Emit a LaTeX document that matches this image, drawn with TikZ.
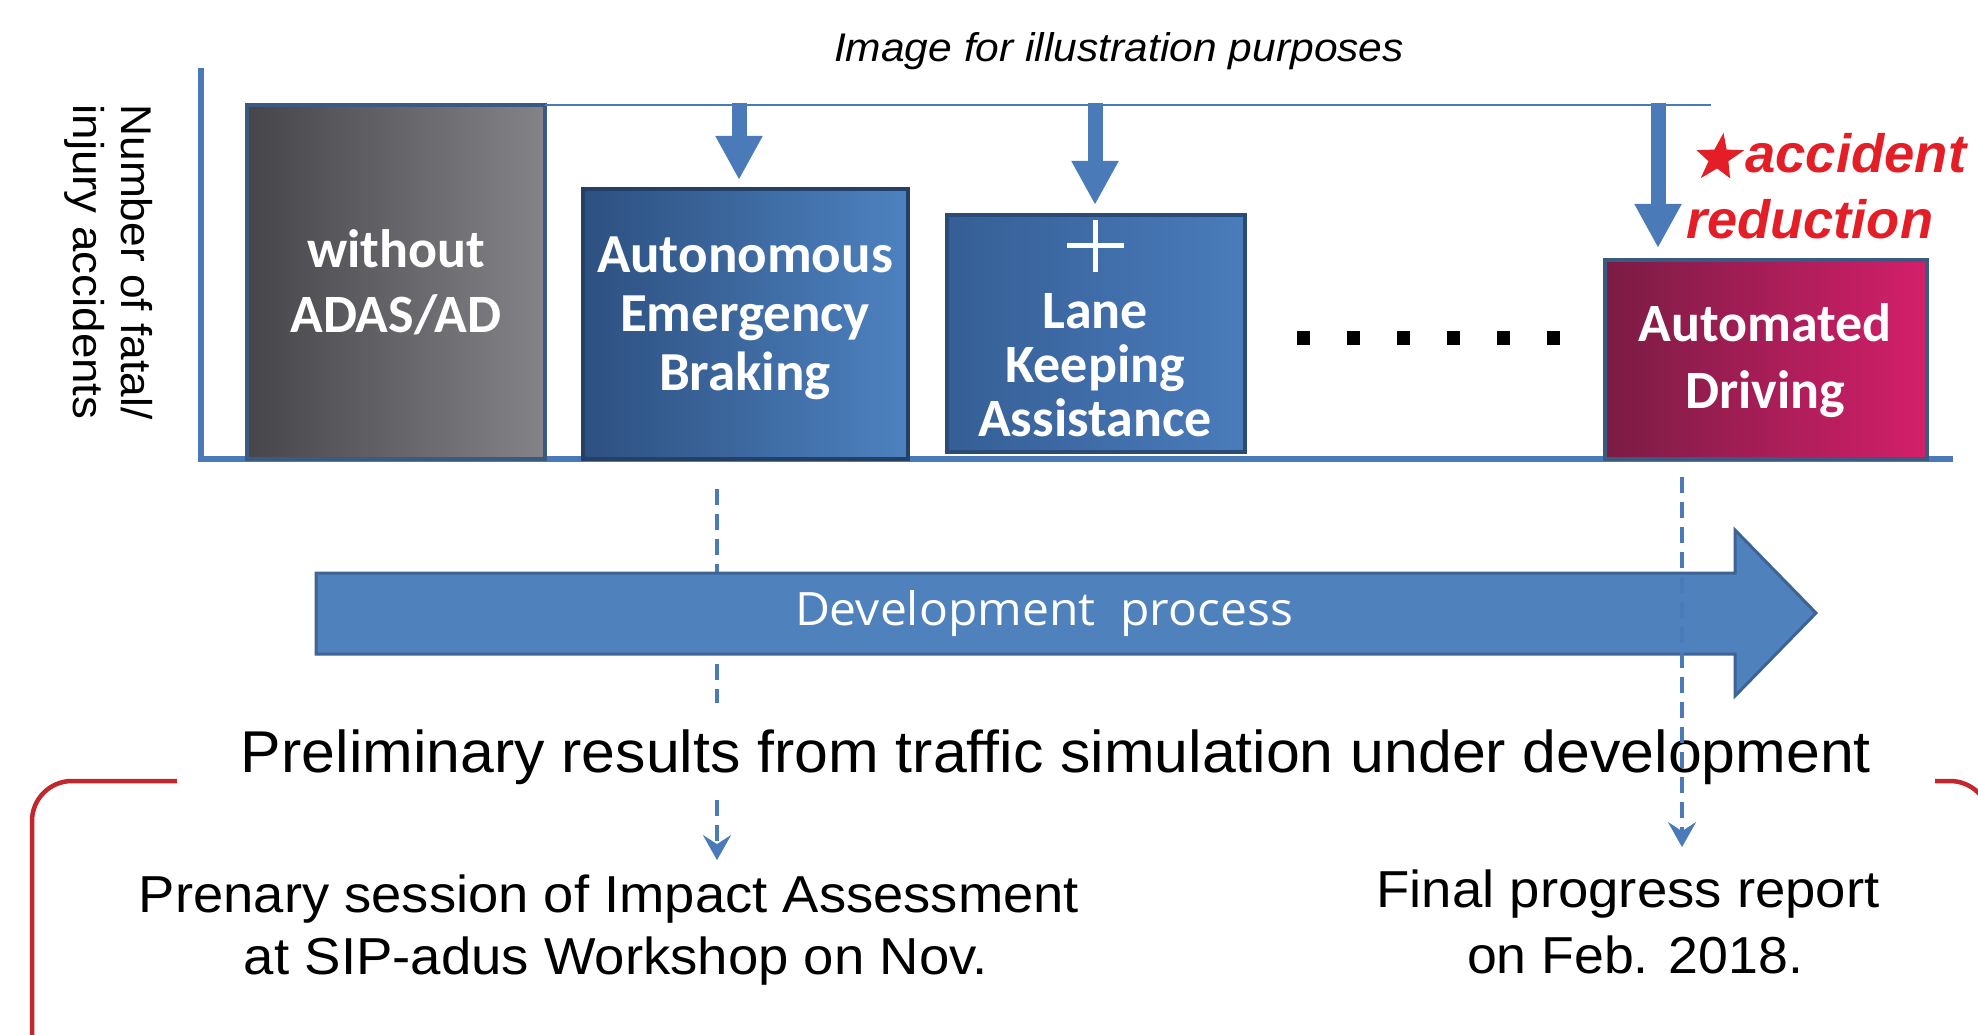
\documentclass[tikz,border=0pt]{standalone}
\usepackage{fontspec}
\setmainfont{Liberation Sans}
\newfontfamily\boxfont{Carlito}
\newfontfamily\devfont{Open Sans}
\usetikzlibrary{arrows.meta,shapes.geometric}
\newcommand\fitw[2]{\resizebox{#1}{\height}{#2}}
\definecolor{axisblue}{HTML}{4A7AB8}
\definecolor{arrowblue}{HTML}{4F81BD}
\definecolor{arrowedge}{HTML}{3E6496}
\definecolor{boxedge}{HTML}{3A5A82}
\definecolor{redtxt}{HTML}{E41E26}
\definecolor{bracketred}{HTML}{C1272D}
\definecolor{grayL}{HTML}{46464A}
\definecolor{grayR}{HTML}{838388}
\definecolor{blueL}{HTML}{2D5080}
\definecolor{blueR}{HTML}{4D82C0}
\definecolor{laneL}{HTML}{355E95}
\definecolor{laneR}{HTML}{4A7CBB}
\definecolor{adL}{HTML}{7A1C44}
\definecolor{adR}{HTML}{D41F6A}
\begin{document}
\begin{tikzpicture}[x=1pt,y=-1pt,
  bar/.style={draw=boxedge, line width=4pt, inner sep=0pt, outer sep=0pt},
  boxtxt/.style={text=white, align=center, inner sep=0pt},
  bigarrow/.style={axisblue, line width=15pt, -{Triangle[length=44pt,width=44pt]}},
  dashline/.style={axisblue, line width=3.5pt, dash pattern=on 16pt off 9pt},
  dashtip/.style={-{Stealth[length=25pt,width=28pt,inset=9pt]}},
  btxt/.style={inner sep=0pt, font={\fontsize{52}{62}\selectfont}},
  redt/.style={text=redtxt, inner sep=0pt, font={\bfseries\itshape\fontsize{54}{60}\selectfont}}]
\useasboundingbox (0,0) rectangle (1978,1035);
\fill[white] (0,0) rectangle (1978,1035);

% red bracket frame
\draw[bracketred, line width=4.5pt, rounded corners=40pt] (32,781) rectangle (1990,1075);

% axes
\coordinate (ytop) at (201,68);
\coordinate (orig) at (201,459);
\coordinate (xend) at (1953,459);
\draw[axisblue, line width=6pt, line join=miter] (ytop) -- (orig) -- (xend);

% boxes
\node[bar, left color=grayL, right color=grayR, minimum width=298pt, minimum height=354pt, anchor=south west] (gray) at (247,459) {};
\node[bar, draw=blueL!80!black, left color=blueL, right color=blueR, minimum width=325pt, minimum height=270pt, anchor=south west] (auto) at (583,459) {};
\node[bar, draw=laneL!80!black, left color=laneL, right color=laneR, minimum width=298pt, minimum height=237pt, anchor=south west] (lane) at (947,452) {};
\node[bar, left color=adL, right color=adR, minimum width=322pt, minimum height=199pt, anchor=south west] (ad) at (1605,459) {};

% top reference line
\coordinate (tr) at (1711,103);
\draw[axisblue, line width=2pt] (gray.north east) -- (gray.north east -| tr);

% reduction arrows
\coordinate (a1) at (739,103);
\coordinate (a2) at (1095,103);
\coordinate (a3) at (1658,103);
\draw[bigarrow, shorten >=9pt] (a1) -- (a1 |- auto.north);
\draw[bigarrow, shorten >=10pt] (a2) -- (a2 |- lane.north);
\draw[bigarrow, shorten >=12pt] (a3) -- (a3 |- ad.north);

% box texts
\node[boxtxt, font={\boxfont\bfseries\fontsize{54}{65}\selectfont}] (grayt) at (396,282) {without\\ADAS/AD};
\node[boxtxt, font={\boxfont\bfseries\fontsize{55}{59}\selectfont}] (autot) at (745,318) {Autonomous\\Emergency\\Braking};
\node[boxtxt, font={\boxfont\bfseries\fontsize{54}{54}\selectfont}] (lanet) at (1095,365) {Lane\\Keeping\\Assistance};
\node[boxtxt, font={\boxfont\bfseries\fontsize{54}{67}\selectfont}] (adt) at (1765,361) {Automated\\Driving};
\draw[white, line width=5pt] (1067,245) -- (1124,245) (1095,220) -- (1095,272);

% dots
\foreach \i in {0,...,5} \fill ({1296.5+50*\i},331) rectangle +(13,14);

% accident reduction
\node[star, star points=5, star point ratio=2.4, fill=redtxt, minimum size=50pt, inner sep=0pt, xslant=0.18] (star) at (1719,158) {};
\node[redt, anchor=base west] (acc1) at (1745,173) {\fitw{221pt}{accident}};
\node[redt, anchor=base west] (acc2) at (1686,238) {\fitw{247pt}{reduction}};

% title and axis label
\node[anchor=base, inner sep=0pt, font={\itshape\fontsize{40}{48}\selectfont}] (title) at (1119,62) {\fitw{570pt}{Image for illustration purposes}};
\node[rotate=-90, align=left, inner sep=0pt, font={\fontsize{43}{48}\selectfont}] (ylab) at (109,262) {\fitw{315pt}{Number of fatal/}\\\fitw{315pt}{injury accidents}};

% left dashed line (behind the process arrow)
\coordinate (l1a) at (717,489);
\coordinate (l1b) at (717,703);
\draw[dashline] (l1a) -- (l1b);

% development process arrow
\draw[fill=arrowblue, draw=arrowedge, line width=3pt, line join=miter]
  (316,573) -- (1735,573) -- (1735,530) -- (1816,613) -- (1735,696) -- (1735,654) -- (316,654) -- cycle;
\node[text=white, inner sep=0pt, font={\devfont\fontsize{46}{50}\selectfont}] (devt) at (1044,614) {\fitw{498pt}{Development\ \ process}};

% preliminary results text (masks the bracket top)
\node[fill=white, minimum width=1758pt, minimum height=70pt, inner sep=0pt, font={\fontsize{59}{66}\selectfont}] (prelim) at (1056,757) {\fitw{1630pt}{Preliminary\ results from traffic simulation under\ development}};

% bottom texts
\node[btxt, anchor=base] (nov1) at (609,912) {\fitw{940pt}{Prenary session of Impact Assessment}};
\node[btxt, anchor=base] (nov2) at (616,974) {\fitw{744pt}{at SIP-adus Workshop on Nov.}};
\node[btxt, anchor=base] (feb1) at (1628,907) {\fitw{503pt}{Final progress report}};
\node[btxt, anchor=base] (feb2) at (1635,973) {\fitw{336pt}{on Feb. 2018.}};

% dashed connectors
\coordinate (l2a) at (717,800);
\draw[dashline, dashtip, shorten >=14pt] (l2a) -- (l2a |- nov1.north);
\coordinate (r1a) at (1682,477);
\draw[dashline, dashtip, shorten >=22pt] (r1a) -- (r1a |- feb1.north);
\end{tikzpicture}
\end{document}
